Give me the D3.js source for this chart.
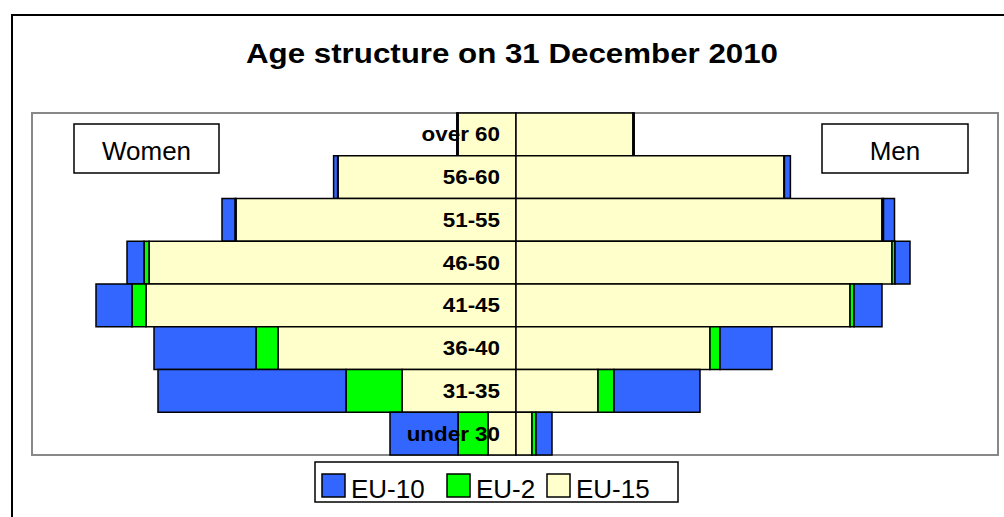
<!DOCTYPE html>
<html>
<head>
<meta charset="utf-8">
<script src="https://cdn.jsdelivr.net/npm/d3@7"></script>
<style>
  body { margin: 0; background: #fff; }
  text { font-family: Arial, "Liberation Sans", sans-serif; }
</style>
</head>
<body>
<div id="chart"></div>
<script>
// age groups, top to bottom
var ages = ['over 60', '56-60', '51-55', '46-50', '41-45', '36-40', '31-35', 'under 30'];

// women (drawn to the left), from the centre outwards
var womenEU15 = [58, 178, 280, 367, 370, 238, 114, 28];
var womenEU2 = [0.6, 0.4, 1, 5, 14, 22, 56, 30];
var womenEU10 = [0.6, 4, 13, 17, 36, 102, 188, 68];

// men (drawn to the right), from the centre outwards
var menEU15 = [117, 268, 366, 376, 334, 194, 82, 16];
var menEU2 = [0.6, 0.4, 1.5, 3, 4, 10, 16, 4];
var menEU10 = [0.6, 6, 11, 15, 28, 52, 86, 16];

var groups = ['EU-15', 'EU-2', 'EU-10'];
var legendOrder = ['EU-10', 'EU-2', 'EU-15'];
var colors = { 'EU-10': '#3366ff', 'EU-2': '#00ff00', 'EU-15': '#ffffcc' };

var width = 1004, height = 517;
var plot = { left: 32, top: 113, right: 998, bottom: 455 };

var svg = d3.select('#chart').append('svg')
    .attr('width', width)
    .attr('height', height);

// outer chart frame (runs off the picture on the right and bottom)
svg.append('rect')
    .attr('x', 12).attr('y', 15)
    .attr('width', 1010).attr('height', 520)
    .attr('fill', '#fff')
    .attr('stroke', '#000')
    .attr('stroke-width', 2);

svg.append('text')
    .attr('x', 512).attr('y', 63)
    .attr('text-anchor', 'middle')
    .attr('font-size', 28)
    .attr('font-weight', 'bold')
    .attr('textLength', 532)
    .attr('lengthAdjust', 'spacingAndGlyphs')
    .text('Age structure on 31 December 2010');

// plot area
svg.append('rect')
    .attr('x', plot.left).attr('y', plot.top)
    .attr('width', plot.right - plot.left).attr('height', plot.bottom - plot.top)
    .attr('fill', '#fff')
    .attr('stroke', '#888')
    .attr('stroke-width', 2);

var x = d3.scaleLinear().domain([-460, 460]).range([56, 976]);
var y = d3.scaleBand().domain(ages).range([plot.top, plot.bottom]).padding(0);

// build stacked segments for one side
function stackSide(sign, series) {
  var segs = [];
  ages.forEach(function(a, i) {
    var acc = 0;
    groups.forEach(function(g) {
      var v = series[g][i];
      segs.push({ age: a, group: g, x0: sign * acc, x1: sign * (acc + v) });
      acc += v;
    });
  });
  return segs;
}

var segments = stackSide(-1, { 'EU-15': womenEU15, 'EU-2': womenEU2, 'EU-10': womenEU10 })
  .concat(stackSide(1, { 'EU-15': menEU15, 'EU-2': menEU2, 'EU-10': menEU10 }));

svg.append('g').classed('bars', true)
  .selectAll('rect')
  .data(segments)
  .enter()
  .append('rect')
    .attr('x', function(d) { return x(Math.min(d.x0, d.x1)); })
    .attr('y', function(d) { return y(d.age); })
    .attr('width', function(d) { return Math.abs(x(d.x1) - x(d.x0)); })
    .attr('height', y.bandwidth())
    .attr('fill', function(d) { return colors[d.group]; })
    .attr('stroke', '#000')
    .attr('stroke-width', 1.5);

// category labels sit just left of the centre line
svg.append('g').classed('labels', true)
  .selectAll('text')
  .data(ages)
  .enter()
  .append('text')
    .attr('transform', function(d) {
      return 'translate(' + (x(0) - 16) + ',' + (y(d) + y.bandwidth() / 2 + 7) + ') scale(1.12,1)';
    })
    .attr('text-anchor', 'end')
    .attr('font-size', 20)
    .attr('font-weight', 'bold')
    .text(function(d) { return d; });

// Women / Men boxes
var sideBoxes = [
  { label: 'Women', x: 74, w: 145 },
  { label: 'Men', x: 822, w: 146 }
];
var sb = svg.append('g').selectAll('g').data(sideBoxes).enter().append('g');
sb.append('rect')
    .attr('x', function(d) { return d.x; }).attr('y', 124)
    .attr('width', function(d) { return d.w; }).attr('height', 49)
    .attr('fill', '#fff').attr('stroke', '#000').attr('stroke-width', 1.5);
sb.append('text')
    .attr('x', function(d) { return d.x + d.w / 2; }).attr('y', 160)
    .attr('text-anchor', 'middle')
    .attr('font-size', 26)
    .text(function(d) { return d.label; });

// legend
var legend = svg.append('g');
legend.append('rect')
    .attr('x', 315).attr('y', 462)
    .attr('width', 363).attr('height', 40)
    .attr('fill', '#fff').attr('stroke', '#000').attr('stroke-width', 1.5);
var legendX = [322, 447, 547];
var items = legend.selectAll('g.item').data(legendOrder).enter()
  .append('g').classed('item', true)
  .attr('transform', function(d, i) { return 'translate(' + legendX[i] + ',0)'; });
items.append('rect')
    .attr('x', 0).attr('y', 474)
    .attr('width', 23).attr('height', 23)
    .attr('fill', function(d) { return colors[d]; })
    .attr('stroke', '#000').attr('stroke-width', 1.5);
items.append('text')
    .attr('x', 29).attr('y', 498)
    .attr('font-size', 26)
    .text(function(d) { return d; });
</script>
</body>
</html>
